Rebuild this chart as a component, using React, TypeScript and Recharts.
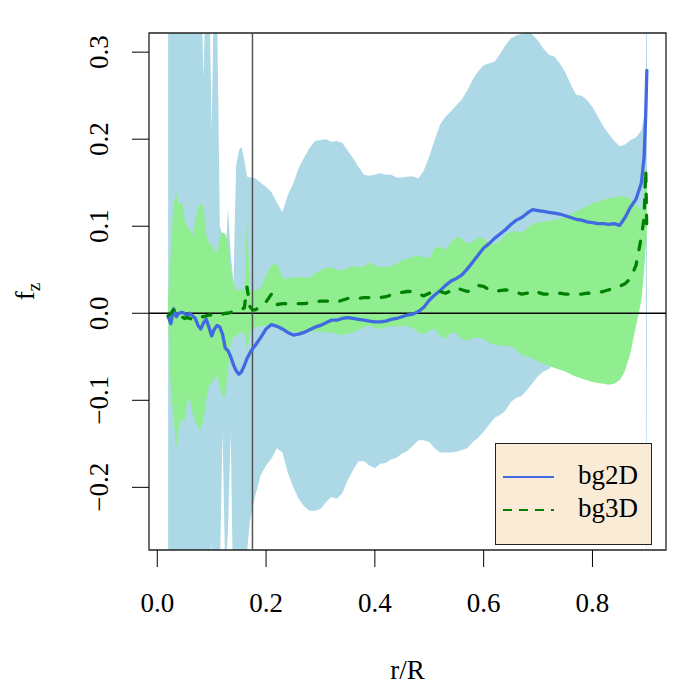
import React from "react"
import {
  ComposedChart,
  Area,
  Line,
  XAxis,
  YAxis,
  ReferenceLine,
  ReferenceArea,
} from "recharts"

// radial position r/R
const r = [
  0.02, 0.025, 0.03, 0.035, 0.04, 0.045, 0.05, 0.055, 0.06, 0.065, 0.07, 0.075, 0.08, 0.085, 0.09, 0.095,
  0.1, 0.105, 0.11, 0.115, 0.12, 0.125, 0.13, 0.135, 0.14, 0.145, 0.15, 0.155, 0.16, 0.165, 0.17, 0.175, 0.18,
  0.19, 0.2, 0.21, 0.22, 0.23, 0.24, 0.25, 0.26, 0.27, 0.28, 0.29,
  0.3, 0.31, 0.32, 0.33, 0.34, 0.35, 0.36, 0.37, 0.38, 0.39,
  0.4, 0.41, 0.42, 0.43, 0.44, 0.45, 0.46, 0.47, 0.48, 0.49,
  0.5, 0.51, 0.52, 0.53, 0.54, 0.55, 0.56, 0.57, 0.58, 0.59,
  0.6, 0.61, 0.62, 0.63, 0.64, 0.65, 0.66, 0.67, 0.68, 0.69,
  0.7, 0.71, 0.72, 0.73, 0.74, 0.75, 0.76, 0.77, 0.78, 0.79,
  0.8, 0.81, 0.82, 0.83, 0.84, 0.85, 0.86, 0.87, 0.88, 0.89,
  0.895, 0.898, 0.9,
]

// bg2D mean curve
const bg2D = [
  -0.004, -0.012, 0.005, -0.004, 0.0, 0.001, 0.0, -0.004, 0.0, -0.003, -0.006, -0.014, -0.018, -0.011, -0.007, -0.016,
  -0.026, -0.018, -0.014, -0.016, -0.024, -0.04, -0.043, -0.05, -0.059, -0.066, -0.07, -0.067, -0.06, -0.052, -0.046, -0.041, -0.037,
  -0.028, -0.018, -0.013, -0.015, -0.018, -0.022, -0.025, -0.024, -0.022, -0.019, -0.016,
  -0.014, -0.011, -0.008, -0.008, -0.006, -0.005, -0.006, -0.007, -0.008, -0.009,
  -0.01, -0.01, -0.009, -0.007, -0.006, -0.004, -0.002, -0.001, 0.002, 0.007,
  0.015, 0.021, 0.026, 0.032, 0.037, 0.04, 0.044, 0.051, 0.059, 0.067,
  0.075, 0.08, 0.086, 0.091, 0.096, 0.102, 0.107, 0.11, 0.115, 0.119,
  0.118, 0.117, 0.116, 0.115, 0.114, 0.112, 0.11, 0.108, 0.107, 0.105,
  0.104, 0.103, 0.103, 0.102, 0.103, 0.101, 0.11, 0.122, 0.131, 0.15,
  0.18, 0.23, 0.279,
]

// bg3D mean curve
const bg3D = [
  -0.003, 0.0, 0.004, 0.004, 0.0, -0.004, -0.006, -0.005, -0.006, -0.007, -0.007, -0.006, -0.004, -0.004, -0.003, -0.002,
  -0.002, -0.002, -0.002, -0.001, -0.001, 0.0, 0.0, 0.001, 0.002, 0.003, 0.004, 0.005, 0.006, 0.03, 0.008, 0.004, 0.004,
  0.007, 0.013, 0.022, 0.01, 0.011, 0.011, 0.011, 0.011, 0.011, 0.012, 0.013,
  0.014, 0.014, 0.014, 0.013, 0.015, 0.017, 0.017, 0.017, 0.018, 0.018,
  0.018, 0.018, 0.019, 0.021, 0.023, 0.024, 0.025, 0.025, 0.022, 0.02,
  0.023, 0.027, 0.025, 0.023, 0.026, 0.029, 0.027, 0.025, 0.027, 0.032,
  0.031, 0.027, 0.025, 0.026, 0.027, 0.026, 0.024, 0.022, 0.023, 0.026,
  0.024, 0.022, 0.022, 0.023, 0.023, 0.022, 0.022, 0.022, 0.022, 0.023,
  0.023, 0.024, 0.025, 0.027, 0.028, 0.031, 0.034, 0.04, 0.055, 0.088,
  0.11, 0.165, 0.09,
]

// bg2D spread (light blue band)
const lo2D = [
  -0.4, -0.4, -0.4, -0.4, -0.4, -0.4, -0.4, -0.4, -0.4, -0.4, -0.4, -0.4, -0.4, -0.4, -0.4, -0.4,
  -0.26, -0.4, -0.4, -0.3, -0.135, -0.3, -0.25, -0.135, -0.35, -0.4, -0.4, -0.4, -0.35, -0.275, -0.24, -0.225, -0.21,
  -0.186, -0.175, -0.167, -0.155, -0.16, -0.183, -0.2, -0.213, -0.222, -0.227, -0.227,
  -0.225, -0.217, -0.211, -0.213, -0.207, -0.192, -0.18, -0.17, -0.17, -0.175,
  -0.178, -0.173, -0.172, -0.168, -0.166, -0.161, -0.158, -0.152, -0.146, -0.146,
  -0.148, -0.155, -0.16, -0.16, -0.16, -0.159, -0.157, -0.155, -0.148, -0.143,
  -0.136, -0.128, -0.12, -0.117, -0.112, -0.102, -0.097, -0.095, -0.088, -0.08,
  -0.072, -0.067, -0.064, -0.058, -0.06, -0.062, -0.065, -0.068, -0.07, -0.072,
  -0.074, -0.075, -0.076, -0.077, -0.076, -0.072, -0.061, -0.04, -0.01, 0.02,
  0.055, 0.085, -0.5,
]
const hi2D = [
  0.4, 0.4, 0.4, 0.4, 0.4, 0.4, 0.4, 0.4, 0.4, 0.4, 0.4, 0.4, 0.4, 0.27, 0.4, 0.4,
  0.21, 0.4, 0.35, 0.1, 0.09, 0.06, 0.12, 0.07, 0.035, 0.17, 0.187, 0.191, 0.176, 0.157, 0.156, 0.156, 0.155,
  0.15, 0.145, 0.139, 0.127, 0.116, 0.136, 0.149, 0.167, 0.179, 0.19, 0.198,
  0.199, 0.2, 0.197, 0.198, 0.196, 0.187, 0.178, 0.168, 0.159, 0.158,
  0.159, 0.161, 0.159, 0.159, 0.156, 0.156, 0.157, 0.157, 0.155, 0.164,
  0.18, 0.199, 0.217, 0.226, 0.232, 0.239, 0.246, 0.256, 0.269, 0.278,
  0.285, 0.287, 0.289, 0.298, 0.308, 0.316, 0.319, 0.321, 0.324, 0.32,
  0.313, 0.304, 0.297, 0.295, 0.287, 0.277, 0.263, 0.251, 0.25, 0.245,
  0.237, 0.226, 0.215, 0.206, 0.198, 0.192, 0.194, 0.199, 0.202, 0.21,
  0.227, 0.26, 0.5,
]

// bg3D spread (light green band)
const lo3D = [
  -0.01, -0.09, -0.12, -0.155, -0.13, -0.12, -0.125, -0.1, -0.099, -0.115, -0.125, -0.13, -0.135, -0.122, -0.1, -0.084,
  -0.08, -0.075, -0.07, -0.085, -0.095, -0.095, -0.065, -0.035, -0.027, -0.026, -0.023, -0.022, -0.022, -0.045, -0.022, -0.018, -0.016,
  -0.015, -0.014, -0.013, -0.016, -0.017, -0.02, -0.021, -0.022, -0.022, -0.021, -0.021,
  -0.021, -0.022, -0.022, -0.024, -0.025, -0.023, -0.022, -0.019, -0.016, -0.014,
  -0.017, -0.018, -0.016, -0.015, -0.015, -0.015, -0.015, -0.017, -0.022, -0.024,
  -0.02, -0.018, -0.026, -0.029, -0.022, -0.023, -0.03, -0.032, -0.028, -0.028,
  -0.03, -0.034, -0.036, -0.037, -0.038, -0.038, -0.042, -0.048, -0.05, -0.052,
  -0.055, -0.058, -0.06, -0.063, -0.065, -0.067, -0.07, -0.073, -0.075, -0.077,
  -0.079, -0.08, -0.081, -0.082, -0.081, -0.077, -0.066, -0.045, -0.015, 0.015,
  0.05, 0.08, 0.09,
]
const hi3D = [
  0.02, 0.073, 0.126, 0.138, 0.124, 0.13, 0.109, 0.099, 0.096, 0.089, 0.107, 0.122, 0.126, 0.121, 0.09, 0.081,
  0.078, 0.073, 0.068, 0.088, 0.093, 0.091, 0.084, 0.05, 0.034, 0.027, 0.027, 0.027, 0.027, 0.11, 0.027, 0.026, 0.026,
  0.029, 0.044, 0.055, 0.058, 0.041, 0.04, 0.041, 0.042, 0.041, 0.041, 0.046,
  0.049, 0.052, 0.053, 0.05, 0.049, 0.052, 0.054, 0.053, 0.054, 0.059,
  0.055, 0.053, 0.053, 0.054, 0.057, 0.061, 0.063, 0.065, 0.066, 0.064,
  0.063, 0.075, 0.076, 0.073, 0.082, 0.088, 0.086, 0.08, 0.082, 0.087,
  0.086, 0.081, 0.08, 0.084, 0.09, 0.094, 0.094, 0.093, 0.097, 0.103,
  0.104, 0.105, 0.106, 0.107, 0.109, 0.111, 0.114, 0.117, 0.12, 0.123,
  0.126, 0.128, 0.13, 0.132, 0.133, 0.135, 0.134, 0.131, 0.124, 0.118,
  0.14, 0.16, 0.17,
]

const xTicks = [0, 0.2, 0.4, 0.6, 0.8]
const yTicks = [-0.2, -0.1, 0, 0.1, 0.2, 0.3]
const rCut = 0.175

const xDomain = [-0.0152, 0.9352]
const yDomain = [-0.272, 0.322]

const FONT = "'Liberation Serif', 'Times New Roman', serif"
const FS = 27

const data = r.map((x, i) => ({
  r: x,
  bg2D: bg2D[i],
  bg3D: bg3D[i],
  band2D: [lo2D[i], hi2D[i]],
  band3D: [lo3D[i], hi3D[i]],
}))

const fmt = (v: number) => {
  const s = Math.abs(v).toFixed(1)
  return v < 0 ? "\u2212" + s : s
}

// y tick labels are written along the axis, like R's default
const YTick = ({ x, y, payload }: any) => (
  <text
    x={x}
    y={y}
    transform={`rotate(-90 ${x} ${y})`}
    textAnchor="middle"
    fontSize={FS}
    fontFamily={FONT}
    fill="#000"
  >
    {fmt(payload.value)}
  </text>
)

const YLabel = ({ viewBox }: any) => {
  const x = viewBox.x + 34
  const y = viewBox.y + viewBox.height / 2
  return (
    <text x={x} y={y} transform={`rotate(-90 ${x} ${y})`} textAnchor="middle" fontSize={FS} fontFamily={FONT} fill="#000">
      f
      <tspan fontSize={19} dy={6}>z</tspan>
    </text>
  )
}

const XLabel = ({ viewBox }: any) => (
  <text
    x={viewBox.x + viewBox.width / 2}
    y={viewBox.y + 129}
    textAnchor="middle"
    fontSize={FS}
    fontFamily={FONT}
    fill="#000"
  >
    r/R
  </text>
)

function LegendBox() {
  return (
    <div
      style={{
        position: "absolute",
        left: 495,
        top: 443,
        width: 155,
        height: 100,
        border: "1px solid #222",
        background: "#FAEBD7",
      }}
    >
      <svg width={155} height={100}>
        <line x1={7} x2={58} y1={33} y2={33} stroke="#4169E1" strokeWidth={2} />
        <line x1={7} x2={58} y1={66} y2={66} stroke="#008000" strokeWidth={2} strokeDasharray="9 7" />
        <text x={82} y={40} fontSize={FS} fontFamily={FONT} fill="#000">bg2D</text>
        <text x={82} y={73} fontSize={FS} fontFamily={FONT} fill="#000">bg3D</text>
      </svg>
    </div>
  )
}

export default function App() {
  return (
    <div style={{ position: "absolute", left: 0, top: 0, width: 700, height: 700, background: "#fff" }}>
      <ComposedChart
        width={700}
        height={700}
        data={data}
        margin={{ top: 33, right: 34, left: 0, bottom: 0 }}
        style={{ fontFamily: FONT }}
      >
        <XAxis
          dataKey="r"
          type="number"
          domain={xDomain}
          ticks={xTicks}
          allowDataOverflow
          height={150}
          axisLine={false}
          tickLine={{ stroke: "#000", strokeWidth: 1 }}
          tickSize={17}
          tickMargin={26}
          tick={{ fontSize: FS, fill: "#000", fontFamily: FONT }}
          tickFormatter={fmt}
          label={<XLabel />}
        />
        <YAxis
          type="number"
          domain={yDomain}
          ticks={yTicks}
          allowDataOverflow
          width={149}
          axisLine={false}
          tickLine={{ stroke: "#000", strokeWidth: 1 }}
          tickSize={17}
          tickMargin={24}
          tick={<YTick />}
          label={<YLabel />}
        />

        <Area
          dataKey="band2D"
          type="linear"
          stroke="none"
          fill="#ADD8E6"
          fillOpacity={1}
          isAnimationActive={false}
          activeDot={false}
        />
        <Area
          dataKey="band3D"
          type="linear"
          stroke="none"
          fill="#90EE90"
          fillOpacity={1}
          isAnimationActive={false}
          activeDot={false}
        />

        <ReferenceLine y={0} stroke="#000" strokeWidth={1.3} />
        <ReferenceLine x={rCut} stroke="#555" strokeWidth={1.5} />

        <Line
          dataKey="bg2D"
          type="linear"
          stroke="#4169E1"
          strokeWidth={3.3}
          strokeLinejoin="round"
          strokeLinecap="round"
          dot={false}
          activeDot={false}
          isAnimationActive={false}
        />
        <Line
          dataKey="bg3D"
          type="linear"
          stroke="#008000"
          strokeWidth={3.3}
          strokeDasharray="8.5 12.5"
          strokeLinejoin="round"
          strokeLinecap="round"
          dot={false}
          activeDot={false}
          isAnimationActive={false}
        />

        <ReferenceArea
          x1={xDomain[0]}
          x2={xDomain[1]}
          y1={yDomain[0]}
          y2={yDomain[1]}
          fill="none"
          stroke="#222"
          strokeWidth={1.3}
          ifOverflow="visible"
        />
      </ComposedChart>
      <LegendBox />
    </div>
  )
}
